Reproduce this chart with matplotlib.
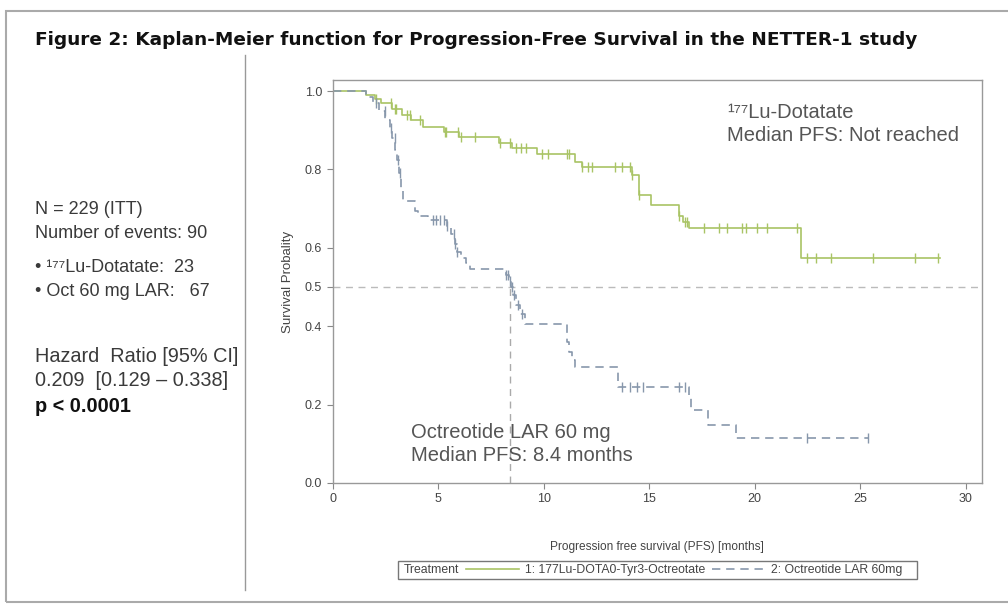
import numpy as np
import matplotlib
matplotlib.use("Agg")
import matplotlib.pyplot as plt
from matplotlib.patches import Rectangle
from matplotlib.lines import Line2D

plt.rcParams['font.family'] = ['Liberation Sans', 'DejaVu Sans']

# Kaplan-Meier steps (months, survival after step)
lu_times = [0, 1.6, 2.0, 2.3, 2.8, 3.3, 3.7, 4.3, 5.3, 6.0, 7.9, 8.5, 9.7,
            11.5, 11.8, 14.2, 14.5, 15.1, 16.4, 16.6, 16.9, 22.2]
lu_surv = [1.0, 0.99, 0.98, 0.97, 0.955, 0.94, 0.925, 0.907, 0.895, 0.883,
           0.867, 0.855, 0.84, 0.82, 0.805, 0.785, 0.735, 0.709, 0.68, 0.665,
           0.65, 0.574]
lu_end = 28.8
lu_censor = [2.07, 2.78, 2.94, 3.02, 3.5, 3.65, 4.12, 5.31, 5.39, 5.94, 6.1,
             6.73, 7.91, 8.39, 8.7, 8.94, 9.18, 9.9, 10.2, 11.1, 11.2, 11.8,
             12.1, 12.3, 13.4, 13.7, 14.1, 14.2, 14.5, 16.4, 16.7, 16.8, 17.6,
             18.3, 18.7, 19.4, 19.6, 20.1, 20.6, 22.0, 22.5, 22.9, 23.6, 25.6,
             27.6, 28.7]

oc_times = [0, 1.6, 1.9, 2.2, 2.5, 2.7, 2.8, 2.95, 3.05, 3.15, 3.25, 3.35,
            3.9, 4.05, 4.5, 5.4, 5.6, 5.8, 5.9, 6.1, 6.3, 6.5, 8.2, 8.35, 8.45,
            8.55, 8.7, 8.9, 9.1, 11.1, 11.2, 11.35, 11.5, 13.5, 16.9, 17.0,
            17.8, 19.1]
oc_surv = [1.0, 0.985, 0.97, 0.95, 0.925, 0.905, 0.88, 0.85, 0.825, 0.79,
           0.75, 0.72, 0.695, 0.68, 0.67, 0.655, 0.635, 0.61, 0.59, 0.575,
           0.56, 0.545, 0.53, 0.515, 0.5, 0.48, 0.455, 0.43, 0.405, 0.36,
           0.335, 0.315, 0.297, 0.245, 0.22, 0.186, 0.148, 0.115]
oc_end = 25.4
oc_censor = [2.07, 2.46, 2.78, 2.94, 3.1, 3.2, 4.74, 4.9, 5.1, 5.26, 5.42,
             5.74, 5.8, 5.9, 8.2, 8.3, 8.4, 8.5, 8.6, 8.8, 8.95, 13.7, 14.1,
             14.4, 14.7, 16.4, 16.7, 22.5, 25.35]

median_oc = 8.4
y_ticks = [0.0, 0.2, 0.4, 0.5, 0.6, 0.8, 1.0]
x_ticks = [0, 5, 10, 15, 20, 25, 30]

green = '#a9c465'
blue = '#8797ab'
txt = '#3a3a3a'


def step_at(times, surv, t):
    i = np.searchsorted(times, t, side='right') - 1
    return np.array(surv)[i]


fig = plt.figure(figsize=(10.08, 6.05), dpi=100)
ax = fig.add_axes([0.330, 0.2017, 0.644, 0.666])

x_lu = list(lu_times) + [lu_end]
y_lu = list(lu_surv) + [lu_surv[-1]]
l1, = ax.step(x_lu, y_lu, where='post', color=green, lw=1.2)
x_oc = list(oc_times) + [oc_end]
y_oc = list(oc_surv) + [oc_surv[-1]]
l2, = ax.step(x_oc, y_oc, where='post', color=blue, lw=1.2,
              dashes=(5, 3.5))

ax.plot(lu_censor, step_at(lu_times, lu_surv, lu_censor), ls='none',
        marker='|', ms=7, mew=1.0, color=green)
ax.plot(oc_censor, step_at(oc_times, oc_surv, oc_censor), ls='none',
        marker='|', ms=7, mew=1.0, color=blue)

ax.axhline(0.5, color='#bbbbbb', lw=1.0, dashes=(5, 4), zorder=0)
ax.plot([median_oc, median_oc], [0, 0.5], color='#aaaaaa', lw=1.0,
        dashes=(5, 4), zorder=0)

ax.set_xlim(0, 30.76)
ax.set_ylim(0, 1.028)
ax.set_xticks(x_ticks)
ax.set_yticks(y_ticks)
ax.set_yticklabels(['%.1f' % v for v in y_ticks])
ax.tick_params(labelsize=9, colors='#888888', labelcolor='#444444',
               length=4, width=0.8)
for s in ax.spines.values():
    s.set_color('#999999')
    s.set_linewidth(1.0)

ax.set_ylabel('Survival Probality', fontsize=9.5, color='#444444',
              labelpad=8)
ax.set_xlabel('Progression free survival (PFS) [months]', fontsize=8.6,
              color='#444444', labelpad=26)

ax.text(18.7, 0.97, '\u00b9\u2077\u2077Lu-Dotatate\nMedian PFS: Not reached',
        fontsize=14.5, color='#555555', va='top', linespacing=1.25)
ax.text(3.7, 0.152, 'Octreotide LAR 60 mg\nMedian PFS: 8.4 months',
        fontsize=14.5, color='#555555', va='top', linespacing=1.25)

# legend box under the axes
fig.add_artist(Rectangle((398 / 1008, 1 - 579 / 605), 519 / 1008, 18 / 605,
                         transform=fig.transFigure, fill=False,
                         edgecolor='#777777', lw=1.0))
fig.text(404 / 1008, 1 - 570 / 605, 'Treatment', fontsize=8.8,
         color='#444444', va='center')
fig.legend(handles=[l1, l2],
           labels=['1: 177Lu-DOTA0-Tyr3-Octreotate', '2: Octreotide LAR 60mg'],
           loc='center left', bbox_to_anchor=(466 / 1008, 1 - 570 / 605),
           ncol=2, frameon=False, fontsize=8.8, handlelength=4.3,
           columnspacing=0.5, handletextpad=0.55, labelcolor='#444444',
           borderpad=0, borderaxespad=0)

# page decoration
fig.add_artist(Rectangle((6 / 1008, 1 - 602 / 605), 1.0, 591 / 605,
                         transform=fig.transFigure, fill=False,
                         edgecolor='#aaaaaa', lw=1.5))
fig.add_artist(Line2D([245 / 1008, 245 / 1008], [1 - 590 / 605, 1 - 55 / 605],
                      transform=fig.transFigure, color='#999999', lw=1.0))

fig.text(35 / 1008, 1 - 40 / 605,
         'Figure 2: Kaplan-Meier function for Progression-Free Survival in the NETTER-1 study',
         fontsize=13.3, fontweight='bold', family='DejaVu Sans', color='#111111',
         va='center')

left_x = 35 / 1008
fig.text(left_x, 1 - 210 / 605, 'N = 229 (ITT)', fontsize=13, color=txt,
         va='center')
fig.text(left_x, 1 - 233 / 605, 'Number of events: 90', fontsize=13,
         color=txt, va='center')
fig.text(left_x, 1 - 268 / 605, '\u2022 \u00b9\u2077\u2077Lu-Dotatate:  23',
         fontsize=13, color=txt, va='center')
fig.text(left_x, 1 - 291 / 605, '\u2022 Oct 60 mg LAR:   67', fontsize=13,
         color=txt, va='center')
fig.text(left_x, 1 - 357 / 605, 'Hazard  Ratio [95% CI]', fontsize=14.3,
         color=txt, va='center')
fig.text(left_x, 1 - 381 / 605, '0.209  [0.129 \u2013 0.338]', fontsize=14.3,
         color=txt, va='center')
fig.text(left_x, 1 - 407 / 605, 'p < 0.0001', fontsize=14.3,
         fontweight='bold', color='#111111', va='center')

fig.savefig('out.png', dpi=100)
